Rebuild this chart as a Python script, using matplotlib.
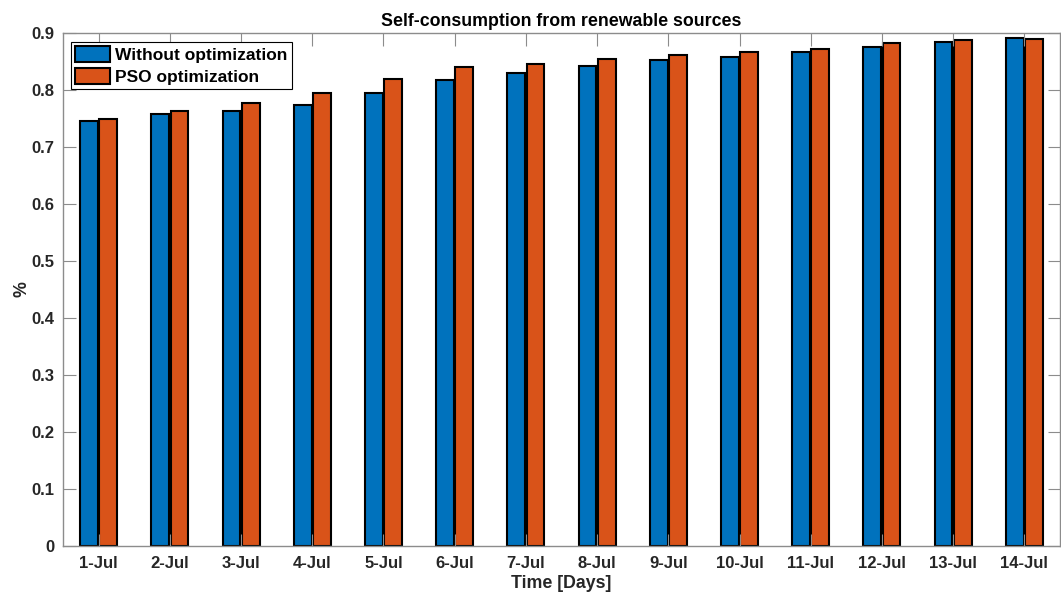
import numpy as np
import matplotlib
matplotlib.use('Agg')
import matplotlib.pyplot as plt

# Dados
dias = ['1-Jul', '2-Jul', '3-Jul', '4-Jul', '5-Jul', '6-Jul', '7-Jul',
        '8-Jul', '9-Jul', '10-Jul', '11-Jul', '12-Jul', '13-Jul', '14-Jul']
sem_otim = [0.745, 0.758, 0.764, 0.774, 0.794, 0.818, 0.830,
            0.843, 0.852, 0.858, 0.867, 0.876, 0.885, 0.892]
pso_otim = [0.749, 0.763, 0.778, 0.794, 0.820, 0.840, 0.846,
            0.854, 0.862, 0.866, 0.872, 0.882, 0.887, 0.890]

plt.rcParams['font.family'] = ['Liberation Sans', 'DejaVu Sans']
plt.rcParams['font.weight'] = 'bold'

azul = '#0072BD'
laranja = '#D95319'
cinza = '#262626'

fig = plt.figure(figsize=(10.61, 5.97), dpi=100)
ax = fig.add_axes([0.0594, 0.0854, 0.9396, 0.8593])

x = np.arange(1, len(dias) + 1)
w = 0.25
ax.bar(x - 0.135, sem_otim, w, color=azul, edgecolor='black', linewidth=1.5,
       label='Without optimization')
ax.bar(x + 0.135, pso_otim, w, color=laranja, edgecolor='black', linewidth=1.5,
       label='PSO optimization')

ax.set_xlim(0.5, 14.5)
ax.set_ylim(0, 0.9)
ax.set_yticks(np.arange(0, 0.91, 0.1))
ax.set_yticklabels(['0', '0.1', '0.2', '0.3', '0.4', '0.5', '0.6', '0.7', '0.8', '0.9'])
ax.set_xticks(x)
ax.set_xticklabels(dias)

for s in ax.spines.values():
    s.set_color('#8c8c8c')
    s.set_linewidth(1.0)
ax.tick_params(direction='in', length=9, width=0.8, color='#8c8c8c',
               top=True, right=True, labelsize=12, labelcolor=cinza)
ax.tick_params(axis='x', pad=7)
ax.tick_params(axis='y', pad=6)

ax.set_title('Self-consumption from renewable sources', fontsize=12.8,
             fontweight='bold', color='black', pad=5)
ax.set_xlabel('Time [Days]', fontsize=12.8, fontweight='bold', color=cinza, labelpad=3)
ax.set_ylabel('%', fontsize=12.8, fontweight='bold', color=cinza, labelpad=1)

leg = ax.legend(loc='upper left', bbox_to_anchor=(0.008, 0.983), fontsize=12.5,
                frameon=True, fancybox=False, edgecolor='black', framealpha=1,
                handlelength=2.0, handleheight=1.0, handletextpad=0.3,
                borderpad=0.25, labelspacing=0.3, borderaxespad=0)
leg.get_frame().set_linewidth(0.8)
for t in leg.get_texts():
    t.set_fontweight('bold')

fig.savefig('out.png', dpi=100)
